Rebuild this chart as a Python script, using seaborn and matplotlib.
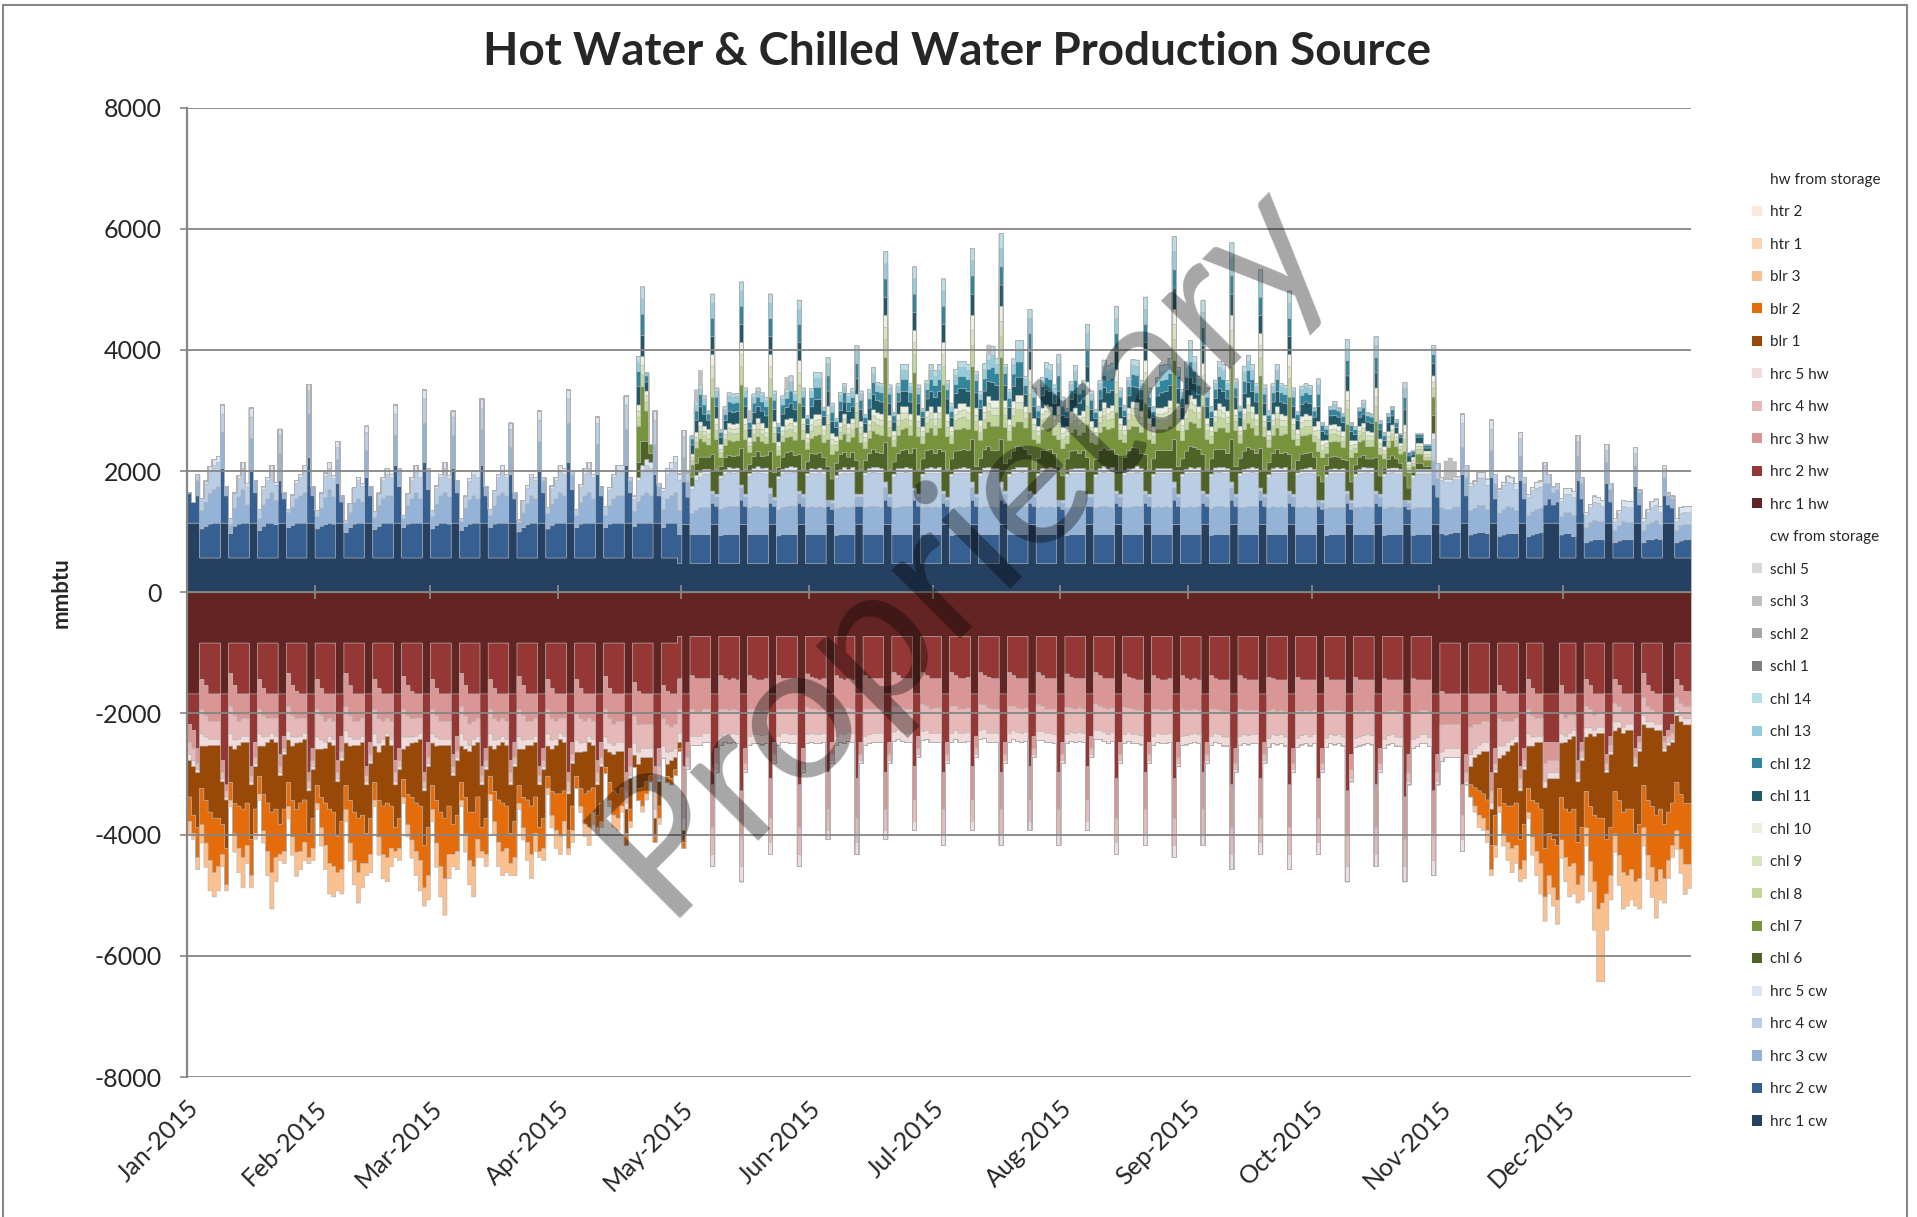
import numpy as np
import pandas as pd
import matplotlib
matplotlib.use("Agg")
import matplotlib.pyplot as plt
from matplotlib.patches import Patch
from matplotlib.lines import Line2D
import seaborn as sns

# daily production, mmbtu, 2015 (day 0 = 1 Jan); one line per week
hrc1_cw = [
    1150, 1150, 1150, 575, 575, 575, 575,   # wk 0
    575, 1150, 1150, 575, 575, 575, 575,    # wk 1
    575, 1150, 1150, 575, 575, 575, 575,
    575, 1150, 1150, 575, 575, 575, 575,
    575, 1150, 1150, 575, 575, 575, 575,
    575, 1150, 1150, 575, 575, 575, 575,    # wk 5
    575, 1150, 1150, 575, 575, 575, 575,
    575, 1150, 1150, 575, 575, 575, 575,
    575, 1150, 1150, 575, 575, 575, 575,
    575, 1150, 1150, 575, 575, 575, 575,
    575, 1150, 1150, 575, 575, 575, 575,    # wk 10
    575, 1150, 1150, 575, 575, 575, 575,
    575, 1150, 1150, 575, 575, 575, 575,
    575, 1150, 1150, 575, 575, 575, 575,
    575, 1150, 1150, 575, 575, 575, 575,
    575, 1150, 1150, 575, 575, 575, 575,    # wk 15
    575, 1150, 1150, 575, 575, 575, 575,
    480, 1130, 1130, 480, 480, 480, 480,
    480, 1130, 1130, 480, 480, 480, 480,
    480, 1130, 1130, 480, 480, 480, 480,
    480, 1130, 1130, 480, 480, 480, 480,    # wk 20
    480, 1130, 1130, 480, 480, 480, 480,
    480, 1130, 1130, 480, 480, 480, 480,
    480, 1130, 1130, 480, 480, 480, 480,
    480, 1130, 1130, 480, 480, 480, 480,
    480, 1130, 1130, 480, 480, 480, 480,    # wk 25
    480, 1130, 1130, 480, 480, 480, 480,
    480, 1130, 1130, 480, 480, 480, 480,
    480, 1130, 1130, 480, 480, 480, 480,
    480, 1130, 1130, 480, 480, 480, 480,
    480, 1130, 1130, 480, 480, 480, 480,    # wk 30
    480, 1130, 1130, 480, 480, 480, 480,
    480, 1130, 1130, 480, 480, 480, 480,
    480, 1130, 1130, 480, 480, 480, 480,
    480, 1130, 1130, 480, 480, 480, 480,
    480, 1130, 1130, 480, 480, 480, 480,    # wk 35
    480, 1130, 1130, 480, 480, 480, 480,
    480, 1130, 1130, 480, 480, 480, 480,
    480, 1130, 1130, 480, 480, 480, 480,
    480, 1130, 1130, 480, 480, 480, 480,
    480, 1130, 1130, 480, 480, 480, 480,    # wk 40
    480, 1130, 1130, 480, 480, 480, 480,
    480, 1130, 1130, 480, 480, 480, 480,
    480, 1130, 1130, 575, 575, 575, 575,
    575, 1150, 1150, 575, 575, 575, 575,
    575, 1150, 1150, 575, 575, 575, 575,    # wk 45
    575, 1150, 1150, 575, 575, 575, 575,
    1150, 1150, 1150, 1150, 575, 575, 575,
    575, 1150, 1150, 575, 575, 575, 575,
    575, 1150, 1150, 575, 575, 575, 575,
    575, 1150, 1150, 575, 575, 575, 575,    # wk 50
    575, 1150, 1150, 1150, 575, 575, 575,
    575,
]
hrc2_cw = [
    500, 340, 450, 480, 520, 560, 575,      # wk 0
    575, 900, 450, 400, 525, 560, 575,
    575, 850, 500, 450, 525, 575, 575,
    550, 700, 400, 500, 540, 575, 575,
    575, 1080, 450, 480, 525, 550, 575,
    560, 650, 350, 420, 500, 560, 575,      # wk 5
    575, 750, 450, 470, 520, 575, 575,
    575, 950, 600, 500, 560, 575, 575,
    575, 1000, 550, 480, 540, 575, 575,
    560, 900, 500, 450, 520, 560, 575,
    575, 950, 450, 500, 560, 575, 575,      # wk 10
    575, 800, 400, 430, 500, 550, 575,
    575, 850, 500, 480, 540, 575, 575,
    575, 1000, 550, 500, 560, 575, 575,
    575, 800, 450, 500, 560, 575, 575,
    575, 950, 500, 520, 575, 575, 575,      # wk 15
    575, 800, 450, 500, 575, 575, 575,
    480, 700, 450, 480, 480, 480, 480,
    480, 350, 300, 470, 480, 480, 480,
    480, 400, 300, 480, 480, 480, 480,
    480, 350, 300, 460, 480, 480, 480,      # wk 20
    480, 350, 300, 480, 480, 480, 480,
    480, 300, 250, 470, 480, 480, 480,
    480, 300, 300, 480, 480, 480, 480,
    480, 400, 300, 480, 480, 480, 480,
    480, 400, 300, 480, 480, 480, 480,      # wk 25
    480, 350, 300, 470, 480, 480, 480,
    480, 400, 300, 480, 480, 480, 480,
    480, 400, 350, 480, 480, 480, 480,
    480, 350, 300, 480, 480, 480, 480,
    480, 300, 250, 470, 480, 480, 480,      # wk 30
    480, 300, 300, 480, 480, 480, 480,
    480, 350, 300, 480, 480, 480, 480,
    480, 350, 300, 480, 480, 480, 480,
    480, 400, 300, 480, 480, 480, 480,
    480, 350, 300, 470, 480, 480, 480,      # wk 35
    480, 400, 300, 480, 480, 480, 480,
    480, 400, 300, 480, 480, 480, 480,
    480, 350, 300, 480, 480, 480, 480,
    480, 300, 250, 470, 480, 480, 480,
    480, 350, 250, 480, 480, 480, 480,      # wk 40
    480, 350, 300, 470, 480, 480, 480,
    480, 300, 250, 470, 480, 480, 480,
    480, 650, 450, 400, 380, 400, 420,
    420, 800, 450, 380, 400, 420, 420,
    400, 750, 400, 360, 380, 400, 400,      # wk 45
    400, 700, 400, 350, 380, 400, 420,
    300, 400, 300, 350, 380, 400, 400,
    350, 700, 400, 250, 280, 300, 300,
    300, 650, 350, 250, 280, 300, 300,
    300, 600, 300, 250, 300, 300, 320,      # wk 50
    300, 450, 300, 250, 250, 280, 300,
    300,
]
hrc3_cw = [
    0, 0, 250, 300, 400, 500, 550,          # wk 0
    600, 600, 150, 150, 300, 450, 550,
    300, 550, 200, 200, 350, 400, 500,
    400, 450, 100, 250, 300, 400, 450,
    500, 720, 150, 200, 300, 450, 550,
    450, 400, 100, 150, 250, 350, 400,      # wk 5
    350, 450, 150, 200, 350, 400, 450,
    450, 500, 250, 150, 300, 400, 500,
    400, 650, 300, 200, 350, 450, 500,
    450, 550, 200, 150, 300, 400, 450,
    400, 600, 150, 200, 300, 450, 500,      # wk 10
    450, 450, 100, 150, 250, 350, 450,
    400, 500, 200, 250, 350, 400, 500,
    450, 650, 250, 200, 350, 450, 500,
    400, 500, 150, 200, 300, 400, 450,
    450, 600, 200, 250, 350, 450, 500,      # wk 15
    450, 500, 150, 300, 400, 450, 500,
    400, 400, 250, 350, 400, 450, 450,
    450, 150, 150, 430, 450, 470, 460,
    460, 200, 150, 440, 460, 470, 450,
    450, 150, 100, 430, 450, 460, 470,      # wk 20
    470, 150, 150, 450, 460, 450, 460,
    450, 100, 100, 440, 450, 460, 450,
    460, 150, 150, 450, 460, 470, 460,
    450, 200, 150, 440, 450, 460, 470,
    460, 150, 150, 450, 460, 450, 460,      # wk 25
    450, 150, 100, 440, 450, 460, 450,
    460, 200, 150, 450, 460, 470, 460,
    450, 200, 150, 450, 450, 460, 470,
    460, 150, 150, 440, 460, 450, 460,
    450, 100, 100, 450, 450, 460, 450,      # wk 30
    460, 150, 150, 440, 460, 470, 460,
    450, 150, 150, 450, 450, 460, 470,
    460, 150, 150, 440, 460, 450, 460,
    450, 200, 150, 450, 450, 460, 450,
    460, 150, 150, 440, 460, 470, 460,      # wk 35
    450, 200, 150, 450, 450, 460, 470,
    460, 150, 150, 440, 460, 450, 460,
    450, 150, 150, 450, 450, 460, 450,
    450, 100, 100, 440, 450, 450, 450,
    450, 150, 100, 450, 450, 460, 460,      # wk 40
    450, 150, 150, 440, 450, 460, 450,
    450, 100, 100, 440, 450, 450, 450,
    450, 400, 300, 430, 420, 400, 420,
    420, 450, 300, 400, 420, 450, 450,
    400, 450, 250, 380, 420, 450, 430,      # wk 45
    380, 400, 250, 350, 380, 400, 400,
    350, 250, 200, 200, 300, 350, 350,
    350, 400, 250, 250, 300, 320, 300,
    300, 350, 200, 200, 250, 300, 280,
    280, 350, 200, 200, 250, 280, 300,      # wk 50
    250, 300, 150, 150, 200, 250, 250,
    250,
]
hrc4_cw = [
    0, 0, 100, 200, 300, 350, 400,          # wk 0
    400, 300, 0, 100, 250, 300, 350,
    300, 350, 0, 150, 250, 300, 350,
    250, 300, 0, 50, 200, 250, 300,
    350, 390, 0, 100, 250, 350, 350,
    300, 200, 0, 50, 150, 250, 300,         # wk 5
    250, 300, 0, 100, 200, 300, 350,
    300, 350, 50, 50, 200, 300, 350,
    350, 400, 50, 100, 250, 300, 400,
    300, 300, 0, 50, 200, 300, 350,
    350, 350, 0, 100, 250, 300, 350,        # wk 10
    300, 300, 0, 50, 200, 250, 300,
    300, 350, 50, 100, 250, 300, 350,
    350, 400, 50, 100, 250, 350, 400,
    350, 350, 0, 150, 250, 350, 400,
    400, 400, 50, 200, 350, 400, 450,       # wk 15
    450, 400, 50, 300, 400, 450, 500,
    500, 350, 150, 400, 500, 500, 550,
    550, 50, 50, 500, 540, 560, 550,
    560, 50, 50, 520, 550, 550, 560,
    550, 100, 50, 500, 550, 560, 550,       # wk 20
    560, 50, 50, 510, 550, 550, 560,
    540, 0, 50, 500, 540, 550, 550,
    550, 50, 50, 520, 550, 560, 550,
    560, 100, 50, 510, 560, 550, 560,
    550, 50, 50, 500, 550, 560, 550,        # wk 25
    560, 50, 50, 520, 550, 550, 560,
    550, 100, 50, 510, 560, 560, 550,
    560, 100, 50, 500, 550, 550, 560,
    550, 50, 50, 520, 550, 560, 550,
    560, 0, 50, 510, 550, 550, 560,         # wk 30
    550, 50, 50, 500, 550, 560, 550,
    560, 50, 50, 520, 560, 550, 560,
    550, 50, 50, 510, 550, 560, 550,
    560, 100, 50, 500, 550, 550, 560,
    550, 50, 50, 520, 560, 560, 550,        # wk 35
    560, 100, 50, 510, 550, 550, 560,
    550, 50, 50, 500, 550, 560, 550,
    560, 50, 50, 520, 550, 550, 560,
    550, 0, 50, 510, 550, 560, 550,
    560, 50, 50, 500, 550, 550, 560,        # wk 40
    550, 50, 50, 520, 560, 560, 550,
    550, 0, 50, 500, 550, 550, 550,
    550, 350, 250, 450, 450, 450, 450,
    450, 400, 200, 400, 400, 450, 450,
    400, 350, 150, 350, 400, 400, 400,      # wk 45
    350, 300, 100, 300, 350, 350, 350,
    300, 150, 100, 100, 250, 300, 300,
    300, 250, 100, 200, 250, 300, 300,
    250, 200, 100, 150, 200, 250, 250,
    250, 200, 50, 150, 200, 250, 250,       # wk 50
    200, 150, 50, 50, 150, 200, 200,
    200,
]
hrc5_cw = [
    0, 0, 0, 0, 50, 100, 100,               # wk 0
    100, 150, 0, 0, 0, 50, 100,
    50, 150, 0, 0, 50, 50, 100,
    50, 100, 0, 0, 0, 50, 50,
    100, 100, 0, 0, 0, 50, 100,
    50, 100, 0, 0, 0, 0, 50,                # wk 5
    50, 100, 0, 0, 0, 50, 100,
    50, 150, 0, 0, 0, 50, 100,
    100, 150, 0, 0, 50, 50, 100,
    50, 100, 0, 0, 0, 50, 50,
    100, 150, 0, 0, 0, 50, 100,             # wk 10
    50, 100, 0, 0, 0, 50, 50,
    50, 150, 0, 0, 50, 50, 100,
    100, 150, 0, 0, 50, 100, 100,
    50, 100, 0, 0, 50, 50, 100,
    100, 150, 0, 50, 50, 100, 100,          # wk 15
    100, 150, 0, 50, 100, 100, 100,
    100, 100, 0, 50, 80, 80, 80,
    80, 0, 0, 50, 80, 80, 80,
    80, 0, 0, 50, 80, 100, 80,
    100, 0, 0, 50, 80, 80, 100,             # wk 20
    80, 0, 0, 50, 80, 80, 80,
    80, 0, 0, 50, 80, 100, 80,
    100, 0, 0, 50, 80, 80, 100,
    80, 0, 0, 50, 80, 80, 80,
    80, 0, 0, 50, 80, 100, 80,              # wk 25
    100, 0, 0, 50, 80, 80, 100,
    80, 0, 0, 50, 80, 80, 80,
    80, 0, 0, 50, 80, 100, 80,
    100, 0, 0, 50, 80, 80, 100,
    80, 0, 0, 50, 80, 80, 80,               # wk 30
    80, 0, 0, 50, 80, 100, 80,
    100, 0, 0, 50, 80, 80, 100,
    80, 0, 0, 50, 80, 80, 80,
    80, 0, 0, 50, 80, 100, 80,
    100, 0, 0, 50, 80, 80, 100,             # wk 35
    80, 0, 0, 50, 80, 80, 80,
    80, 0, 0, 50, 80, 100, 80,
    100, 0, 0, 50, 80, 80, 100,
    80, 0, 0, 50, 80, 80, 80,
    80, 0, 0, 50, 80, 100, 80,              # wk 40
    100, 0, 0, 50, 80, 80, 100,
    80, 0, 0, 50, 80, 80, 80,
    80, 100, 0, 50, 50, 50, 50,
    50, 150, 0, 50, 50, 100, 100,
    100, 150, 0, 50, 50, 100, 100,          # wk 45
    100, 100, 0, 50, 50, 100, 100,
    50, 0, 0, 0, 50, 100, 100,
    100, 100, 0, 50, 50, 100, 100,
    100, 100, 0, 50, 50, 100, 100,
    100, 100, 0, 50, 50, 100, 100,          # wk 50
    100, 50, 0, 0, 50, 100, 100,
    100,
]

# chillers run 15 Apr .. 4 Nov (days 105-307), one line per week from wk 15
CHL_START = 105
chl6 = [
    0, 0, 0, 0, 250, 400, 300,
    150, 0, 0, 0, 0, 0, 0,
    0, 0, 0, 150, 200, 250, 200,
    200, 600, 400, 150, 200, 200, 200,
    200, 600, 400, 150, 200, 250, 200,
    200, 600, 400, 150, 200, 250, 250,
    200, 600, 400, 200, 250, 250, 250,
    200, 550, 350, 200, 250, 250, 200,
    250, 550, 400, 200, 250, 300, 250,
    250, 650, 400, 200, 250, 300, 300,
    250, 650, 400, 250, 300, 300, 250,
    300, 650, 450, 250, 300, 300, 300,
    300, 700, 450, 250, 300, 350, 300,
    300, 700, 450, 250, 300, 350, 350,
    300, 600, 400, 250, 300, 300, 300,
    250, 550, 400, 250, 300, 300, 250,
    300, 600, 400, 250, 300, 300, 300,
    300, 600, 400, 250, 300, 350, 300,
    250, 600, 400, 250, 300, 300, 300,
    300, 700, 450, 250, 300, 350, 350,
    300, 600, 400, 250, 300, 300, 300,
    250, 700, 450, 250, 300, 350, 300,
    250, 650, 400, 200, 250, 300, 250,
    250, 600, 400, 200, 250, 250, 250,
    200, 400, 300, 150, 200, 200, 200,
    150, 500, 300, 150, 200, 200, 150,
    150, 550, 300, 100, 150, 200, 150,
    100, 400, 200, 50, 100, 100, 50,
    50, 300, 0, 0, 0, 0, 0,
]
chl7 = [
    0, 0, 0, 0, 600, 900, 500,
    150, 0, 0, 0, 0, 0, 0,
    0, 0, 0, 200, 250, 300, 250,
    200, 950, 500, 150, 200, 250, 250,
    250, 1050, 500, 200, 250, 250, 250,
    200, 900, 500, 200, 250, 250, 250,
    250, 850, 500, 200, 250, 300, 300,
    250, 450, 400, 200, 250, 300, 250,
    250, 550, 450, 200, 250, 300, 300,
    300, 1400, 550, 250, 300, 350, 350,
    300, 1250, 550, 250, 300, 350, 300,
    350, 1100, 550, 250, 350, 350, 350,
    350, 1200, 600, 300, 350, 400, 400,
    400, 1350, 600, 300, 400, 400, 400,
    350, 700, 500, 250, 350, 350, 350,
    300, 450, 450, 250, 300, 350, 300,
    300, 550, 450, 250, 300, 350, 350,
    350, 700, 500, 250, 350, 350, 350,
    350, 850, 500, 250, 350, 350, 350,
    400, 1300, 600, 300, 350, 400, 400,
    350, 800, 500, 250, 300, 350, 350,
    350, 1200, 600, 250, 350, 400, 350,
    300, 1200, 550, 250, 300, 350, 300,
    300, 950, 500, 250, 300, 300, 300,
    250, 400, 400, 200, 250, 250, 250,
    200, 600, 400, 200, 250, 250, 200,
    200, 600, 350, 150, 200, 250, 200,
    150, 400, 250, 100, 150, 150, 100,
    100, 300, 0, 0, 0, 0, 0,
]
chl8 = [
    0, 0, 0, 0, 150, 200, 150,
    0, 0, 0, 0, 0, 0, 0,
    0, 0, 0, 80, 100, 120, 100,
    100, 300, 150, 80, 100, 120, 120,
    120, 300, 150, 100, 120, 120, 120,
    100, 300, 150, 80, 100, 120, 120,
    120, 300, 150, 100, 120, 150, 150,
    120, 250, 150, 100, 120, 150, 120,
    120, 250, 150, 100, 120, 150, 150,
    150, 300, 150, 100, 150, 150, 150,
    150, 300, 150, 120, 150, 150, 150,
    150, 300, 150, 120, 150, 180, 180,
    150, 350, 150, 120, 150, 180, 180,
    180, 350, 200, 150, 180, 200, 200,
    150, 300, 150, 120, 150, 180, 150,
    150, 250, 150, 120, 150, 150, 150,
    150, 300, 150, 120, 150, 180, 150,
    150, 300, 150, 120, 150, 180, 180,
    150, 300, 150, 120, 150, 150, 150,
    180, 350, 200, 150, 180, 200, 180,
    150, 300, 150, 120, 150, 180, 150,
    150, 350, 150, 120, 150, 180, 150,
    150, 300, 150, 120, 150, 150, 150,
    120, 300, 150, 100, 120, 150, 120,
    100, 200, 120, 100, 120, 120, 100,
    100, 250, 120, 80, 100, 120, 100,
    100, 250, 100, 80, 100, 100, 100,
    80, 200, 80, 50, 80, 80, 50,
    50, 150, 0, 0, 0, 0, 0,
]
chl9 = [
    0, 0, 0, 0, 100, 150, 100,
    0, 0, 0, 0, 0, 0, 0,
    0, 0, 0, 50, 80, 80, 80,
    80, 200, 100, 60, 80, 80, 80,
    80, 200, 100, 60, 80, 100, 80,
    80, 200, 100, 60, 80, 80, 100,
    100, 200, 100, 80, 100, 100, 100,
    80, 150, 100, 60, 80, 100, 100,
    100, 150, 100, 80, 100, 100, 100,
    100, 200, 100, 80, 100, 120, 100,
    100, 200, 100, 80, 100, 100, 120,
    100, 200, 100, 80, 100, 120, 120,
    120, 250, 100, 100, 120, 120, 120,
    120, 250, 120, 100, 120, 120, 120,
    100, 200, 100, 80, 100, 120, 100,
    100, 150, 100, 80, 100, 100, 100,
    100, 200, 100, 80, 100, 120, 100,
    120, 200, 100, 80, 100, 120, 120,
    100, 200, 100, 80, 100, 100, 120,
    120, 250, 120, 100, 120, 120, 120,
    100, 200, 100, 80, 100, 120, 100,
    100, 250, 100, 80, 100, 120, 100,
    100, 200, 100, 80, 100, 100, 100,
    100, 200, 100, 80, 100, 100, 100,
    80, 150, 80, 60, 80, 80, 80,
    80, 150, 80, 60, 80, 80, 80,
    80, 150, 80, 60, 80, 80, 60,
    50, 120, 50, 50, 50, 50, 50,
    50, 100, 0, 0, 0, 0, 0,
]
chl10 = [
    0, 0, 0, 0, 100, 150, 80,
    0, 0, 0, 0, 0, 0, 0,
    0, 0, 0, 50, 80, 80, 80,
    80, 200, 100, 80, 80, 80, 80,
    80, 200, 100, 80, 80, 80, 100,
    80, 200, 100, 80, 80, 100, 80,
    80, 200, 100, 80, 100, 100, 80,
    80, 150, 100, 80, 80, 80, 80,
    80, 150, 100, 80, 80, 100, 100,
    100, 200, 100, 80, 100, 100, 100,
    100, 200, 100, 80, 100, 100, 100,
    100, 200, 120, 80, 100, 120, 100,
    100, 250, 120, 100, 100, 120, 120,
    120, 250, 120, 100, 120, 120, 120,
    100, 200, 100, 80, 100, 100, 100,
    80, 150, 100, 80, 100, 100, 80,
    100, 200, 100, 80, 100, 100, 100,
    100, 200, 100, 80, 100, 100, 100,
    100, 200, 100, 80, 100, 100, 100,
    120, 250, 120, 100, 120, 120, 100,
    100, 200, 100, 80, 100, 100, 100,
    100, 250, 100, 80, 100, 120, 100,
    100, 200, 100, 80, 100, 100, 100,
    80, 200, 100, 80, 100, 100, 80,
    80, 150, 80, 60, 80, 80, 80,
    80, 150, 80, 60, 80, 80, 80,
    60, 150, 80, 60, 80, 80, 60,
    50, 120, 50, 50, 50, 50, 50,
    50, 100, 0, 0, 0, 0, 0,
]
chl11 = [
    0, 0, 0, 0, 300, 350, 150,
    0, 0, 0, 0, 0, 0, 0,
    0, 0, 0, 150, 200, 250, 200,
    150, 300, 200, 120, 150, 200, 200,
    200, 300, 200, 150, 200, 200, 200,
    200, 300, 200, 150, 200, 200, 250,
    200, 300, 200, 150, 200, 250, 250,
    150, 250, 200, 150, 200, 200, 200,
    200, 250, 200, 150, 200, 250, 200,
    200, 300, 200, 150, 200, 250, 250,
    200, 300, 200, 150, 200, 250, 250,
    250, 300, 250, 150, 250, 250, 250,
    250, 350, 250, 200, 250, 250, 300,
    250, 350, 250, 200, 250, 300, 300,
    200, 300, 200, 150, 200, 250, 250,
    200, 250, 200, 150, 200, 250, 200,
    200, 250, 200, 150, 200, 250, 250,
    250, 300, 200, 150, 200, 250, 250,
    200, 300, 200, 150, 200, 250, 250,
    250, 350, 250, 200, 250, 300, 250,
    200, 300, 200, 150, 200, 250, 250,
    200, 350, 200, 150, 250, 250, 250,
    200, 300, 200, 150, 200, 250, 200,
    200, 300, 200, 150, 200, 200, 200,
    150, 250, 150, 100, 150, 150, 150,
    150, 250, 150, 100, 150, 150, 150,
    150, 250, 150, 100, 150, 150, 100,
    100, 250, 100, 50, 100, 100, 50,
    50, 200, 0, 0, 0, 0, 0,
]
chl12 = [
    0, 0, 0, 0, 250, 350, 100,
    0, 0, 0, 0, 0, 0, 0,
    0, 0, 0, 100, 150, 200, 150,
    100, 300, 150, 80, 100, 150, 150,
    150, 300, 150, 100, 150, 150, 150,
    150, 300, 150, 100, 150, 150, 200,
    150, 300, 150, 100, 150, 200, 200,
    100, 250, 150, 100, 150, 150, 150,
    150, 250, 150, 100, 150, 200, 150,
    150, 300, 150, 100, 150, 200, 200,
    150, 300, 150, 100, 150, 200, 200,
    200, 300, 150, 100, 150, 200, 200,
    200, 300, 200, 150, 200, 200, 250,
    200, 300, 200, 150, 200, 250, 250,
    150, 300, 150, 100, 150, 200, 200,
    150, 250, 150, 100, 150, 200, 150,
    150, 300, 150, 100, 150, 200, 200,
    200, 300, 150, 100, 150, 200, 200,
    150, 300, 150, 100, 150, 200, 200,
    200, 300, 200, 150, 200, 250, 200,
    150, 300, 150, 100, 150, 200, 200,
    150, 300, 150, 100, 200, 200, 200,
    150, 300, 150, 100, 150, 200, 150,
    150, 300, 150, 100, 150, 150, 150,
    100, 200, 100, 80, 100, 100, 100,
    100, 250, 100, 80, 100, 100, 100,
    100, 250, 100, 80, 100, 100, 80,
    50, 200, 50, 50, 50, 50, 50,
    50, 150, 0, 0, 0, 0, 0,
]
chl13 = [
    0, 0, 0, 0, 150, 250, 50,
    0, 0, 0, 0, 0, 0, 0,
    0, 0, 0, 50, 100, 100, 100,
    50, 250, 100, 50, 80, 100, 100,
    100, 250, 100, 50, 100, 100, 100,
    100, 250, 100, 50, 100, 100, 150,
    100, 250, 100, 50, 100, 150, 150,
    50, 200, 100, 50, 100, 100, 100,
    100, 200, 100, 50, 100, 150, 100,
    100, 250, 100, 50, 100, 150, 150,
    100, 250, 100, 50, 100, 150, 150,
    150, 250, 100, 80, 150, 150, 150,
    150, 250, 100, 80, 150, 150, 200,
    150, 300, 100, 100, 150, 200, 200,
    100, 250, 100, 80, 100, 150, 150,
    100, 200, 100, 50, 100, 150, 100,
    100, 250, 100, 50, 100, 150, 150,
    150, 250, 100, 80, 100, 150, 150,
    100, 250, 100, 80, 100, 150, 150,
    150, 300, 100, 100, 150, 200, 150,
    100, 250, 100, 80, 100, 150, 150,
    100, 300, 100, 80, 150, 150, 150,
    100, 250, 100, 80, 100, 150, 100,
    100, 250, 100, 50, 100, 100, 100,
    50, 150, 50, 50, 50, 80, 50,
    50, 200, 50, 50, 50, 80, 50,
    50, 200, 50, 50, 50, 50, 50,
    0, 150, 0, 0, 0, 0, 0,
    0, 100, 0, 0, 0, 0, 0,
]
chl14 = [
    0, 0, 0, 0, 100, 200, 0,
    0, 0, 0, 0, 0, 0, 0,
    0, 0, 0, 0, 50, 50, 50,
    0, 150, 50, 0, 50, 50, 50,
    50, 150, 50, 0, 50, 50, 50,
    50, 150, 50, 0, 50, 50, 100,
    50, 150, 50, 0, 50, 100, 100,
    0, 100, 50, 0, 50, 50, 50,
    50, 100, 50, 0, 50, 100, 50,
    50, 200, 50, 0, 50, 100, 100,
    50, 200, 50, 0, 50, 100, 100,
    100, 200, 50, 50, 100, 100, 100,
    100, 200, 50, 50, 100, 100, 150,
    100, 250, 50, 50, 100, 150, 150,
    50, 150, 50, 0, 50, 100, 100,
    50, 150, 50, 0, 50, 100, 50,
    50, 150, 50, 0, 50, 100, 100,
    100, 200, 50, 0, 50, 100, 100,
    50, 200, 50, 0, 50, 100, 100,
    100, 250, 50, 50, 100, 150, 100,
    50, 200, 50, 0, 50, 100, 100,
    50, 250, 50, 0, 100, 100, 100,
    50, 200, 50, 0, 50, 100, 50,
    50, 200, 50, 0, 50, 50, 50,
    0, 100, 0, 0, 0, 50, 0,
    0, 150, 0, 0, 0, 50, 0,
    0, 150, 0, 0, 0, 0, 0,
    0, 100, 0, 0, 0, 0, 0,
    0, 50, 0, 0, 0, 0, 0,
]
schl3_days = [123, 124, 136, 145, 194, 305, 306, 307]
schl3_vals = [200, 250, 150, 200, 150, 300, 350, 250]

# hot water side (plotted below zero)
hrc1_hw = [
    1670, 1670, 1670, 830, 830, 830, 830,   # wk 0
    830, 1670, 1670, 830, 830, 830, 830,    # wk 1
    830, 1670, 1670, 830, 830, 830, 830,
    830, 1670, 1670, 830, 830, 830, 830,
    830, 1670, 1670, 830, 830, 830, 830,
    830, 1670, 1670, 830, 830, 830, 830,    # wk 5
    830, 1670, 1670, 830, 830, 830, 830,
    830, 1670, 1670, 830, 830, 830, 830,
    830, 1670, 1670, 830, 830, 830, 830,
    830, 1670, 1670, 830, 830, 830, 830,
    830, 1670, 1670, 830, 830, 830, 830,    # wk 10
    830, 1670, 1670, 830, 830, 830, 830,
    830, 1670, 1670, 830, 830, 830, 830,
    830, 1670, 1670, 830, 830, 830, 830,
    830, 1670, 1670, 830, 830, 830, 830,
    830, 1670, 1670, 830, 830, 830, 830,    # wk 15
    830, 1670, 1670, 830, 830, 830, 830,
    720, 1670, 1670, 720, 720, 720, 720,
    720, 1670, 1670, 720, 720, 720, 720,
    720, 1670, 1670, 720, 720, 720, 720,
    720, 1670, 1670, 720, 720, 720, 720,    # wk 20
    720, 1670, 1670, 720, 720, 720, 720,
    720, 1670, 1670, 720, 720, 720, 720,
    720, 1670, 1670, 720, 720, 720, 720,
    720, 1670, 1670, 720, 720, 720, 720,
    720, 1670, 1670, 720, 720, 720, 720,    # wk 25
    720, 1670, 1670, 720, 720, 720, 720,
    720, 1670, 1670, 720, 720, 720, 720,
    720, 1670, 1670, 720, 720, 720, 720,
    720, 1670, 1670, 720, 720, 720, 720,
    720, 1670, 1670, 720, 720, 720, 720,    # wk 30
    720, 1670, 1670, 720, 720, 720, 720,
    720, 1670, 1670, 720, 720, 720, 720,
    720, 1670, 1670, 720, 720, 720, 720,
    720, 1670, 1670, 720, 720, 720, 720,
    720, 1670, 1670, 720, 720, 720, 720,    # wk 35
    720, 1670, 1670, 720, 720, 720, 720,
    720, 1670, 1670, 720, 720, 720, 720,
    720, 1670, 1670, 720, 720, 720, 720,
    720, 1670, 1670, 720, 720, 720, 720,
    720, 1670, 1670, 720, 720, 720, 720,    # wk 40
    720, 1670, 1670, 720, 720, 720, 720,
    720, 1670, 1670, 720, 720, 720, 720,
    720, 1670, 1670, 830, 830, 830, 830,
    830, 1670, 1670, 830, 830, 830, 830,
    830, 1670, 1670, 830, 830, 830, 830,    # wk 45
    830, 1670, 1670, 830, 830, 830, 830,
    1670, 1670, 1670, 1670, 830, 830, 830,
    830, 1670, 1670, 830, 830, 830, 830,
    830, 1670, 1670, 830, 830, 830, 830,
    830, 1670, 1670, 830, 830, 830, 830,    # wk 50
    830, 1670, 1670, 1670, 830, 830, 830,
    830,
]
hrc2_hw = [
    500, 600, 900, 600, 700, 840, 840,
    840, 1100, 1500, 500, 700, 840, 840,
    840, 1200, 800, 600, 750, 840, 840,
    840, 1000, 700, 500, 700, 800, 840,
    840, 1300, 900, 600, 750, 840, 840,
    840, 1100, 700, 500, 700, 840, 840,
    840, 1200, 800, 600, 750, 840, 840,
    840, 1100, 900, 550, 700, 800, 840,
    840, 1300, 800, 600, 750, 840, 840,
    840, 1000, 700, 500, 700, 840, 840,
    840, 1200, 900, 600, 750, 840, 840,
    840, 1100, 800, 550, 700, 840, 840,
    840, 1200, 900, 600, 750, 840, 840,
    840, 1300, 800, 600, 750, 840, 840,
    840, 1100, 800, 550, 750, 840, 840,
    840, 1300, 900, 650, 800, 840, 840,
    840, 1200, 900, 700, 800, 840, 840,
    700, 1200, 800, 650, 700, 700, 700,
    700, 1500, 900, 650, 700, 720, 700,
    720, 1600, 900, 650, 700, 720, 720,
    700, 1400, 800, 650, 700, 700, 700,
    700, 1500, 900, 620, 680, 700, 720,
    700, 1300, 800, 650, 700, 720, 700,
    720, 1400, 800, 650, 700, 700, 700,
    700, 1300, 800, 600, 650, 700, 700,
    700, 1200, 700, 600, 650, 700, 700,
    700, 1300, 800, 600, 650, 700, 700,
    680, 1200, 700, 600, 650, 680, 700,
    700, 1300, 800, 600, 650, 700, 700,
    700, 1200, 700, 600, 650, 700, 700,
    700, 1300, 800, 620, 680, 700, 700,
    700, 1200, 700, 600, 650, 700, 700,
    700, 1400, 800, 620, 680, 700, 720,
    720, 1300, 800, 650, 700, 720, 720,
    700, 1400, 800, 650, 700, 720, 700,
    720, 1300, 800, 650, 700, 720, 720,
    720, 1500, 900, 650, 700, 720, 720,
    720, 1400, 800, 680, 700, 720, 720,
    720, 1500, 900, 680, 720, 720, 720,
    720, 1400, 900, 680, 720, 720, 720,
    720, 1600, 1000, 680, 720, 720, 720,
    720, 1500, 900, 700, 720, 720, 720,
    720, 1700, 1000, 700, 720, 720, 720,
    720, 1600, 1000, 800, 840, 840, 840,
    840, 1500, 1000, 840, 840, 840, 840,
    840, 1300, 900, 700, 800, 840, 840,
    840, 1200, 900, 600, 750, 840, 840,
    800, 800, 800, 800, 700, 840, 840,
    840, 1100, 800, 600, 700, 840, 840,
    840, 1000, 700, 600, 700, 840, 840,
    840, 900, 700, 500, 700, 800, 840,
    840, 700, 600, 500, 600, 700, 800,
    800,
]
hrc3_hw = [
    300, 300, 250, 500, 500, 450, 450,
    450, 200, 100, 550, 500, 450, 400,
    400, 150, 250, 500, 450, 400, 400,
    400, 200, 200, 550, 500, 450, 400,
    400, 150, 200, 500, 450, 450, 400,
    450, 200, 250, 550, 500, 450, 450,
    400, 150, 200, 500, 500, 450, 400,
    450, 200, 200, 550, 500, 450, 400,
    400, 150, 250, 500, 450, 450, 450,
    450, 200, 250, 550, 500, 500, 450,
    400, 150, 200, 500, 500, 450, 400,
    450, 200, 250, 550, 500, 450, 450,
    400, 150, 200, 500, 500, 450, 400,
    400, 150, 200, 550, 500, 450, 400,
    450, 200, 250, 550, 500, 500, 450,
    450, 300, 300, 550, 550, 500, 500,
    500, 400, 300, 550, 550, 550, 500,
    500, 500, 250, 550, 550, 550, 500,
    500, 700, 250, 550, 500, 500, 500,
    500, 750, 250, 550, 500, 500, 520,
    520, 650, 200, 550, 500, 500, 500,
    500, 700, 250, 550, 520, 500, 500,
    500, 600, 200, 550, 500, 500, 480,
    480, 650, 200, 550, 500, 500, 500,
    500, 600, 200, 550, 500, 480, 500,
    500, 550, 200, 520, 500, 500, 480,
    480, 600, 200, 550, 500, 500, 500,
    500, 550, 200, 520, 480, 500, 500,
    500, 600, 200, 550, 500, 480, 500,
    480, 550, 200, 520, 500, 500, 500,
    500, 600, 200, 550, 500, 500, 480,
    500, 550, 200, 520, 500, 480, 500,
    480, 650, 200, 550, 500, 500, 500,
    500, 600, 200, 550, 500, 500, 500,
    500, 650, 250, 550, 520, 500, 500,
    500, 600, 200, 550, 500, 500, 520,
    520, 700, 250, 550, 520, 500, 500,
    500, 650, 200, 550, 500, 520, 500,
    520, 700, 250, 550, 520, 500, 520,
    500, 650, 250, 550, 500, 500, 500,
    520, 750, 250, 550, 520, 520, 500,
    520, 700, 250, 550, 520, 500, 520,
    550, 700, 300, 550, 550, 500, 500,
    550, 700, 300, 550, 500, 500, 500,
    500, 500, 300, 550, 500, 500, 450,
    450, 300, 250, 550, 500, 450, 450,
    400, 200, 200, 500, 450, 400, 400,
    350, 300, 300, 300, 450, 400, 350,
    350, 200, 150, 450, 400, 350, 300,
    300, 150, 150, 400, 350, 300, 300,
    300, 150, 100, 400, 350, 300, 300,
    300, 100, 100, 150, 300, 300, 250,
    250,
]
hrc4_hw = [
    200, 200, 100, 400, 350, 300, 300,
    300, 100, 100, 450, 400, 300, 300,
    300, 100, 100, 400, 350, 300, 250,
    300, 100, 50, 400, 350, 300, 300,
    250, 100, 100, 450, 400, 350, 300,
    300, 100, 100, 400, 350, 300, 300,
    300, 100, 100, 400, 400, 300, 250,
    300, 150, 100, 450, 350, 300, 300,
    250, 100, 100, 400, 350, 300, 300,
    300, 100, 100, 450, 400, 350, 300,
    300, 100, 100, 400, 350, 300, 300,
    300, 150, 100, 450, 400, 300, 300,
    300, 100, 100, 400, 350, 300, 250,
    300, 150, 100, 450, 400, 350, 300,
    300, 150, 100, 450, 400, 350, 350,
    350, 200, 150, 450, 450, 400, 400,
    400, 300, 200, 450, 450, 400, 400,
    400, 350, 150, 450, 400, 400, 400,
    400, 450, 100, 450, 400, 400, 400,
    400, 500, 100, 450, 420, 400, 400,
    400, 400, 100, 450, 400, 400, 420,
    420, 450, 100, 450, 400, 420, 400,
    400, 350, 100, 450, 400, 400, 400,
    400, 400, 100, 450, 420, 400, 400,
    400, 350, 100, 430, 400, 400, 400,
    400, 350, 100, 450, 400, 400, 420,
    420, 400, 100, 450, 400, 400, 400,
    400, 350, 100, 430, 400, 420, 400,
    400, 400, 100, 450, 400, 400, 400,
    400, 350, 100, 450, 420, 400, 400,
    420, 400, 100, 450, 400, 400, 400,
    400, 350, 100, 430, 400, 400, 420,
    400, 400, 100, 450, 400, 420, 400,
    420, 400, 100, 450, 400, 400, 400,
    400, 450, 100, 450, 420, 400, 400,
    400, 400, 100, 450, 400, 400, 420,
    420, 450, 100, 450, 400, 420, 400,
    400, 400, 100, 450, 420, 400, 400,
    420, 450, 100, 450, 400, 400, 420,
    400, 400, 100, 450, 400, 420, 400,
    420, 500, 150, 450, 420, 400, 400,
    400, 450, 100, 450, 400, 400, 420,
    400, 450, 150, 450, 400, 400, 400,
    400, 450, 150, 450, 400, 400, 400,
    400, 400, 150, 450, 400, 350, 350,
    350, 200, 100, 450, 400, 350, 300,
    300, 150, 100, 400, 350, 300, 300,
    300, 200, 200, 200, 350, 300, 300,
    250, 100, 100, 350, 300, 250, 250,
    250, 100, 100, 300, 250, 250, 200,
    200, 100, 100, 300, 250, 200, 200,
    200, 100, 100, 100, 200, 200, 200,
    200,
]
hrc5_hw = [
    100, 100, 50, 200, 150, 100, 100,
    100, 50, 50, 200, 150, 100, 100,
    100, 50, 50, 200, 150, 100, 100,
    100, 50, 50, 150, 150, 100, 100,
    100, 50, 50, 200, 150, 100, 100,
    100, 50, 50, 200, 150, 100, 100,
    100, 50, 50, 200, 150, 100, 50,
    100, 50, 50, 200, 150, 100, 100,
    100, 50, 50, 150, 150, 100, 100,
    100, 50, 50, 200, 150, 100, 100,
    100, 50, 50, 200, 150, 100, 100,
    100, 50, 50, 200, 150, 100, 100,
    100, 50, 50, 200, 150, 100, 100,
    100, 50, 50, 200, 150, 150, 100,
    100, 50, 50, 200, 150, 150, 150,
    150, 100, 50, 200, 200, 150, 150,
    150, 150, 50, 200, 200, 150, 150,
    150, 200, 50, 150, 150, 150, 150,
    150, 200, 50, 150, 150, 150, 150,
    150, 250, 50, 150, 150, 150, 150,
    150, 200, 50, 150, 150, 150, 150,
    150, 200, 50, 150, 150, 150, 150,
    150, 150, 50, 150, 150, 150, 150,
    150, 200, 50, 150, 150, 150, 150,
    150, 150, 50, 150, 150, 150, 150,
    150, 150, 50, 150, 150, 150, 150,
    150, 200, 50, 150, 150, 150, 150,
    150, 150, 50, 150, 150, 150, 150,
    150, 200, 50, 150, 150, 150, 150,
    150, 150, 50, 150, 150, 150, 150,
    150, 200, 50, 150, 150, 150, 150,
    150, 150, 50, 150, 150, 150, 150,
    150, 200, 50, 150, 150, 150, 150,
    150, 200, 50, 150, 150, 150, 150,
    150, 200, 50, 150, 150, 150, 150,
    150, 200, 50, 150, 150, 150, 150,
    150, 250, 50, 150, 150, 150, 150,
    150, 200, 50, 150, 150, 150, 150,
    150, 250, 50, 150, 150, 150, 150,
    150, 200, 50, 150, 150, 150, 150,
    150, 250, 50, 150, 150, 150, 150,
    150, 200, 50, 150, 150, 150, 150,
    150, 250, 50, 150, 150, 150, 150,
    150, 250, 50, 150, 150, 150, 150,
    150, 200, 50, 200, 150, 150, 150,
    150, 100, 50, 200, 150, 150, 100,
    100, 50, 50, 200, 150, 100, 100,
    100, 100, 100, 100, 150, 100, 100,
    100, 50, 50, 150, 100, 100, 100,
    100, 50, 50, 150, 100, 100, 100,
    100, 50, 50, 150, 100, 100, 100,
    100, 50, 50, 50, 100, 100, 100,
    100,
]

# boilers: Jan-Apr (days 0-125) and Nov-Dec (days 308-364)
FALL_START = 308
blr1_spring = [
    600, 800, 900, 700, 900, 1100, 1200,
    1200, 700, 800, 600, 900, 1000, 1100,
    1000, 900, 700, 500, 800, 1000, 1200,
    1100, 800, 900, 700, 900, 1100, 1000,
    1000, 700, 800, 600, 800, 900, 1100,
    1100, 900, 1000, 700, 900, 1100, 1200,
    1200, 800, 900, 600, 800, 1000, 1100,
    1000, 700, 800, 500, 800, 900, 1000,
    1100, 900, 1000, 700, 900, 1100, 1200,
    1000, 800, 900, 600, 800, 1000, 1100,
    900, 700, 800, 500, 700, 900, 1000,
    1000, 800, 900, 600, 800, 900, 1000,
    900, 700, 800, 500, 700, 800, 900,
    800, 600, 700, 400, 600, 700, 800,
    700, 500, 600, 300, 500, 600, 700,
    600, 400, 500, 200, 400, 500, 400,
    300, 300, 400, 0, 200, 300, 200,
    100, 200, 0, 0, 0, 0, 0,
]
blr2_spring = [
    400, 300, 500, 600, 700, 800, 900,
    800, 500, 600, 300, 500, 700, 800,
    700, 600, 400, 300, 600, 800, 1000,
    800, 500, 700, 400, 600, 700, 800,
    700, 400, 500, 300, 500, 700, 900,
    900, 600, 800, 400, 700, 800, 900,
    800, 500, 600, 300, 600, 800, 900,
    700, 400, 500, 300, 500, 700, 800,
    900, 700, 800, 400, 700, 900, 1000,
    800, 500, 600, 300, 600, 800, 900,
    700, 400, 600, 300, 500, 700, 800,
    700, 500, 600, 300, 500, 700, 800,
    600, 400, 500, 200, 400, 600, 700,
    500, 300, 400, 200, 300, 500, 600,
    400, 200, 300, 100, 300, 400, 400,
    300, 200, 200, 0, 200, 300, 200,
    100, 100, 200, 0, 100, 100, 100,
    50, 100, 0, 0, 0, 0, 0,
]
blr3_spring = [
    200, 100, 200, 300, 400, 500, 400,
    400, 200, 100, 100, 300, 400, 500,
    300, 200, 100, 100, 200, 400, 600,
    400, 100, 200, 200, 300, 400, 300,
    300, 100, 200, 100, 300, 400, 500,
    500, 300, 400, 200, 300, 400, 500,
    400, 200, 300, 100, 300, 400, 400,
    300, 100, 200, 100, 200, 300, 400,
    500, 300, 400, 200, 400, 500, 600,
    400, 200, 300, 100, 300, 400, 500,
    300, 100, 200, 100, 200, 400, 400,
    400, 200, 300, 100, 200, 300, 400,
    300, 100, 200, 100, 200, 300, 300,
    200, 100, 200, 0, 100, 200, 300,
    200, 100, 100, 0, 100, 200, 200,
    100, 0, 100, 0, 0, 100, 100,
    0, 0, 100, 0, 0, 0, 0,
    0, 0, 0, 0, 0, 0, 0,
]
blr1_fall = [
    0, 0, 0, 300, 500, 600, 700,
    800, 600, 700, 500, 800, 900, 1000,
    1000, 800, 900, 700, 900, 1000, 1100,
    1000, 900, 1000, 1100, 900, 1100, 1200,
    1200, 1000, 1100, 900, 1200, 1300, 1400,
    1400, 1100, 1200, 1000, 1200, 1300, 1300,
    1300, 1100, 1200, 1000, 1200, 1300, 1400,
    1300, 1200, 1100, 1000, 1100, 1200, 1300,
    1300,
]
blr2_fall = [
    0, 0, 0, 200, 300, 400, 400,
    500, 400, 500, 300, 500, 600, 700,
    700, 500, 600, 400, 600, 800, 900,
    800, 700, 800, 900, 700, 800, 900,
    900, 700, 800, 600, 900, 1100, 1500,
    1400, 900, 800, 700, 900, 1000, 1100,
    1000, 800, 900, 700, 900, 1000, 1100,
    1000, 900, 800, 700, 800, 900, 1000,
    1000,
]
blr3_fall = [
    0, 0, 0, 0, 100, 200, 200,
    200, 100, 200, 100, 200, 300, 400,
    300, 200, 300, 100, 300, 400, 500,
    400, 300, 300, 400, 300, 400, 500,
    500, 300, 400, 300, 500, 800, 1200,
    1300, 600, 400, 300, 500, 600, 500,
    500, 400, 500, 300, 400, 500, 600,
    500, 400, 300, 200, 300, 400, 500,
    400,
]

month_starts = [0, 31, 59, 90, 120, 151, 181, 212, 243, 273, 304, 334]
month_labels = ["Jan-2015", "Feb-2015", "Mar-2015", "Apr-2015", "May-2015", "Jun-2015",
                "Jul-2015", "Aug-2015", "Sep-2015", "Oct-2015", "Nov-2015", "Dec-2015"]

# legend order as in the workbook (top of list = top of stack)
legend_names = ["hw from storage", "htr 2", "htr 1", "blr 3", "blr 2", "blr 1",
                "hrc 5 hw", "hrc 4 hw", "hrc 3 hw", "hrc 2 hw", "hrc 1 hw",
                "cw from storage", "schl 5", "schl 3", "schl 2", "schl 1",
                "chl 14", "chl 13", "chl 12", "chl 11", "chl 10", "chl 9", "chl 8",
                "chl 7", "chl 6", "hrc 5 cw", "hrc 4 cw", "hrc 3 cw", "hrc 2 cw", "hrc 1 cw"]
colors = {
    "hw from storage": "none", "htr 2": "#FDE9D9", "htr 1": "#FCD5B4",
    "blr 3": "#FAC090", "blr 2": "#E46C0A", "blr 1": "#984807",
    "hrc 5 hw": "#F2DCDB", "hrc 4 hw": "#E6B9B8", "hrc 3 hw": "#DA9694",
    "hrc 2 hw": "#953735", "hrc 1 hw": "#632523",
    "cw from storage": "none", "schl 5": "#D9D9D9", "schl 3": "#BFBFBF",
    "schl 2": "#A6A6A6", "schl 1": "#808080",
    "chl 14": "#B7DEE8", "chl 13": "#93CDDD", "chl 12": "#31859C", "chl 11": "#215968",
    "chl 10": "#EBF1DE", "chl 9": "#D7E4BD", "chl 8": "#C3D69B",
    "chl 7": "#77933C", "chl 6": "#4F6228",
    "hrc 5 cw": "#DCE6F2", "hrc 4 cw": "#B9CDE5", "hrc 3 cw": "#95B3D7",
    "hrc 2 cw": "#376092", "hrc 1 cw": "#254061",
}

N_DAYS = 365


def place(values, start):
    out = np.zeros(N_DAYS)
    out[start:start + len(values)] = values
    return out


checks = [("hrc1_cw", hrc1_cw, 365), ("hrc2_cw", hrc2_cw, 365), ("hrc3_cw", hrc3_cw, 365),
          ("hrc4_cw", hrc4_cw, 365), ("hrc5_cw", hrc5_cw, 365), ("hrc1_hw", hrc1_hw, 365),
          ("hrc2_hw", hrc2_hw, 365), ("hrc3_hw", hrc3_hw, 365), ("hrc4_hw", hrc4_hw, 365),
          ("hrc5_hw", hrc5_hw, 365), ("chl6", chl6, 203), ("chl7", chl7, 203), ("chl8", chl8, 203),
          ("chl9", chl9, 203), ("chl10", chl10, 203), ("chl11", chl11, 203), ("chl12", chl12, 203),
          ("chl13", chl13, 203), ("chl14", chl14, 203), ("blr1_spring", blr1_spring, 126),
          ("blr2_spring", blr2_spring, 126), ("blr3_spring", blr3_spring, 126),
          ("blr1_fall", blr1_fall, 57), ("blr2_fall", blr2_fall, 57), ("blr3_fall", blr3_fall, 57)]
bad = [(name, len(lst)) for name, lst, n in checks if len(lst) != n]
if bad:
    raise ValueError(f"length mismatch: {bad}")

schl3 = np.zeros(N_DAYS)
schl3[schl3_days] = schl3_vals

cw = {
    "hrc 1 cw": np.array(hrc1_cw), "hrc 2 cw": np.array(hrc2_cw), "hrc 3 cw": np.array(hrc3_cw),
    "hrc 4 cw": np.array(hrc4_cw), "hrc 5 cw": np.array(hrc5_cw),
    "chl 6": place(chl6, CHL_START), "chl 7": place(chl7, CHL_START), "chl 8": place(chl8, CHL_START),
    "chl 9": place(chl9, CHL_START), "chl 10": place(chl10, CHL_START), "chl 11": place(chl11, CHL_START),
    "chl 12": place(chl12, CHL_START), "chl 13": place(chl13, CHL_START), "chl 14": place(chl14, CHL_START),
    "schl 3": schl3,
}
hw = {
    "hrc 1 hw": np.array(hrc1_hw), "hrc 2 hw": np.array(hrc2_hw), "hrc 3 hw": np.array(hrc3_hw),
    "hrc 4 hw": np.array(hrc4_hw), "hrc 5 hw": np.array(hrc5_hw),
    "blr 1": place(blr1_spring, 0) + place(blr1_fall, FALL_START),
    "blr 2": place(blr2_spring, 0) + place(blr2_fall, FALL_START),
    "blr 3": place(blr3_spring, 0) + place(blr3_fall, FALL_START),
}


def long_form(series, sign):
    rows = []
    for name, vals in series.items():
        for d, v in enumerate(vals):
            if v:
                rows.append((d + 0.5, name, sign * float(v)))
    return pd.DataFrame(rows, columns=["day", "source", "mmbtu"])


cw_df = long_form(cw, 1)
hw_df = long_form(hw, -1)

sns.set_style("white")
plt.rcParams["font.family"] = ["Lato", "DejaVu Sans"]

fig = plt.figure(figsize=(19.17, 12.17), dpi=100)
ax = fig.add_axes([0.0975, 0.115, 0.7845, 0.7966])

bins = list(range(N_DAYS + 1))
cw_order = [n for n in legend_names if n in cw]
hw_order = [n for n in legend_names if n in hw]
sns.histplot(data=cw_df, x="day", weights="mmbtu", hue="source", hue_order=cw_order,
             palette=colors, multiple="stack", bins=bins, element="step", fill=True,
             alpha=1, linewidth=0.35, edgecolor="#B0B0B0", legend=False, ax=ax)
sns.histplot(data=hw_df, x="day", weights="mmbtu", hue="source", hue_order=hw_order,
             palette=colors, multiple="stack", bins=bins, element="step", fill=True,
             alpha=1, linewidth=0.35, edgecolor="#B0B0B0", legend=False, ax=ax)

ax.set_xlim(0, N_DAYS)
ax.set_ylim(-8000, 8000)
ax.set_xlabel("")
ax.set_ylabel("")
ax.set_yticks(range(-8000, 8001, 2000))
ax.set_yticklabels([str(v) for v in range(-8000, 8001, 2000)], fontsize=18)
ax.set_xticks(month_starts)
ax.set_xticklabels(month_labels, rotation=45, ha="right", va="top",
                   rotation_mode="anchor", fontsize=18)
ax.tick_params(axis="x", length=0, pad=14)
ax.tick_params(axis="y", length=5, width=1.2, color="#868686", pad=13, left=True)
for s in ["top", "right", "bottom"]:
    ax.spines[s].set_visible(False)
ax.spines["left"].set_color("#868686")
ax.spines["left"].set_linewidth(1.6)
for yv in range(-8000, 8001, 2000):
    ax.axhline(yv, color="#868686", lw=1.3, zorder=5)
ax.vlines(month_starts[1:], -115, 115, color="#868686", lw=1.3, zorder=6)

fig.text(0.4993, 0.957, "Hot Water & Chilled Water Production Source",
         ha="center", va="center", fontsize=33, fontweight="bold")
fig.text(0.032, 0.513, "mmbtu", rotation=90, ha="center", va="center",
         fontsize=16, fontweight="bold")

handles = [Patch(facecolor=colors[n], edgecolor="none") for n in legend_names]
fig.legend(handles, legend_names, loc="upper left", bbox_to_anchor=(0.9140, 0.858),
           frameon=False, fontsize=11, handlelength=0.65, handleheight=0.65,
           handletextpad=0.55, labelspacing=1.21, borderpad=0, borderaxespad=0)

fig.text(0.501, 0.553, "Proprietary", rotation=45, ha="center", va="center",
         rotation_mode="anchor", fontsize=138, color="black", alpha=0.35, zorder=20)

# outer chart-area frame (left, top, right)
fig.add_artist(Line2D([0.0016, 0.0016], [0, 0.9959], color="#868686", lw=1.5))
fig.add_artist(Line2D([0.0016, 0.9948], [0.9959, 0.9959], color="#868686", lw=1.5))
fig.add_artist(Line2D([0.9948, 0.9948], [0, 0.9959], color="#868686", lw=1.5))

fig.savefig("out.png", dpi=100)
